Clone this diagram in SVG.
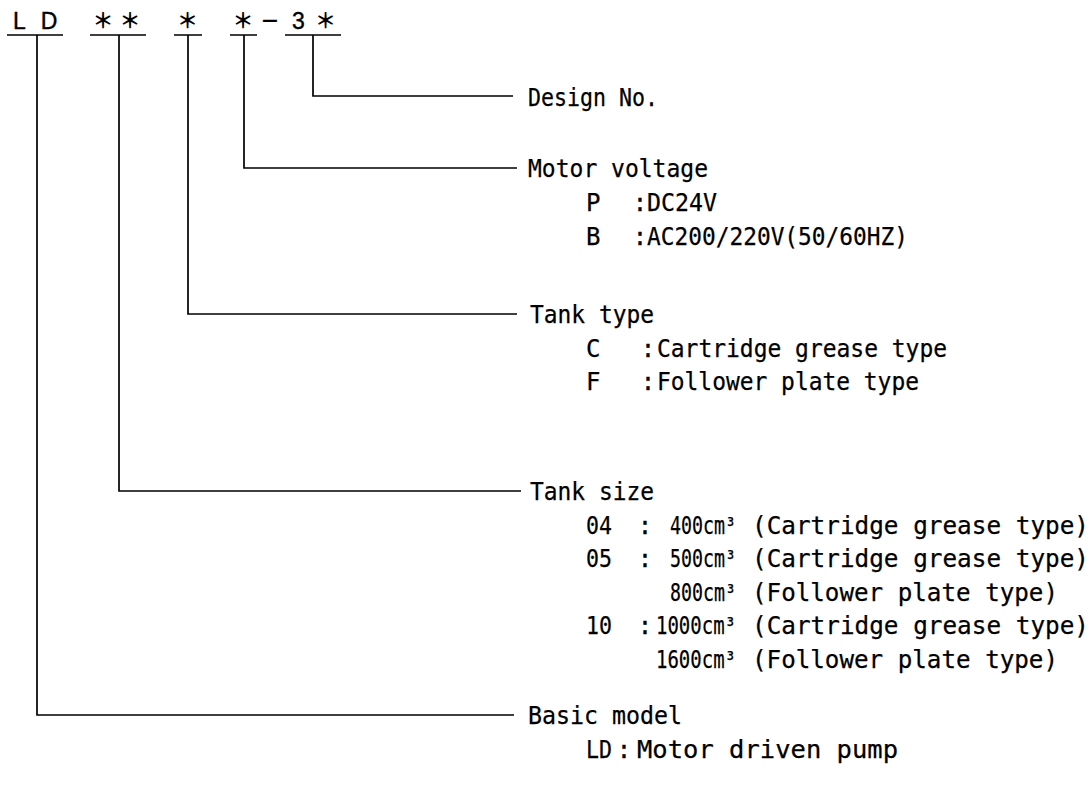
<svg xmlns="http://www.w3.org/2000/svg" width="1092" height="800" viewBox="0 0 1092 800">
<style>
.t{font-family:"DejaVu Sans Mono","Liberation Mono",monospace;font-size:24px;fill:#000;stroke:#000;stroke-width:0.25}
.c{font-family:"DejaVu Sans Mono","Liberation Mono",monospace;font-size:24px;fill:#000;text-anchor:middle;stroke:#000;stroke-width:0.3}
.h{font-family:"Liberation Sans",Arial,sans-serif;font-size:23px;fill:#000;text-anchor:middle;stroke:#000;stroke-width:0.4}
.a{font-family:"Noto Sans CJK JP","Liberation Sans",sans-serif;font-size:21px;font-weight:bold;fill:#000;text-anchor:middle}
.ln{fill:none;stroke:#000;stroke-width:1.7}
</style>
<rect width="1092" height="800" fill="#fff"/>
<g id="code">
<text class="h" x="19.5" y="29">L</text>
<text class="h" x="49" y="29">D</text>
<text class="a" x="103" y="28">＊</text>
<text class="a" x="130" y="28">＊</text>
<text class="a" x="187.5" y="28">＊</text>
<text class="a" x="243" y="28">＊</text>
<text class="h" x="270" y="30" style="font-size:28px">−</text>
<text class="h" x="298.5" y="29">3</text>
<text class="a" x="325.5" y="28">＊</text>
<path class="ln" d="M7 35H63M90 35H146M174 35H202M230 35H257M285 35H341"/>
</g>
<g id="connectors">
<path class="ln" d="M313 35V96H513"/>
<path class="ln" d="M244 35V168H517"/>
<path class="ln" d="M188 35V314H517"/>
<path class="ln" d="M119 35V491H521"/>
<path class="ln" d="M37 35V715H514"/>
</g>
<g id="design">
<text class="t" x="528" y="106" textLength="130" lengthAdjust="spacingAndGlyphs">Design No.</text>
</g>
<g id="motor">
<text class="t" x="528" y="177" textLength="180" lengthAdjust="spacingAndGlyphs">Motor voltage</text>
<text class="t" x="586" y="211">P</text>
<text class="c" x="640" y="211">:</text>
<text class="t" x="647" y="211" textLength="70" lengthAdjust="spacingAndGlyphs">DC24V</text>
<text class="t" x="586" y="245">B</text>
<text class="c" x="640" y="245">:</text>
<text class="t" x="647" y="245" textLength="261" lengthAdjust="spacingAndGlyphs">AC200/220V(50/60HZ)</text>
</g>
<g id="tanktype">
<text class="t" x="530" y="323" textLength="124" lengthAdjust="spacingAndGlyphs">Tank type</text>
<text class="t" x="586" y="357">C</text>
<text class="c" x="648" y="357">:</text>
<text class="t" x="657" y="357" textLength="290" lengthAdjust="spacingAndGlyphs">Cartridge grease type</text>
<text class="t" x="586" y="390">F</text>
<text class="c" x="648" y="390">:</text>
<text class="t" x="657" y="390" textLength="262" lengthAdjust="spacingAndGlyphs">Follower plate type</text>
</g>
<g id="tanksize">
<text class="t" x="530" y="500" textLength="124" lengthAdjust="spacingAndGlyphs">Tank size</text>
<text class="t" x="586" y="534" textLength="26" lengthAdjust="spacingAndGlyphs">04</text>
<text class="c" x="645" y="534">:</text>
<text class="t" x="670" y="534" textLength="66" lengthAdjust="spacingAndGlyphs">400cm³</text>
<text class="t" x="752" y="534" textLength="337" lengthAdjust="spacingAndGlyphs">(Cartridge grease type)</text>
<text class="t" x="586" y="567" textLength="26" lengthAdjust="spacingAndGlyphs">05</text>
<text class="c" x="645" y="567">:</text>
<text class="t" x="670" y="567" textLength="66" lengthAdjust="spacingAndGlyphs">500cm³</text>
<text class="t" x="752" y="567" textLength="337" lengthAdjust="spacingAndGlyphs">(Cartridge grease type)</text>
<text class="t" x="670" y="601" textLength="66" lengthAdjust="spacingAndGlyphs">800cm³</text>
<text class="t" x="752" y="601" textLength="306" lengthAdjust="spacingAndGlyphs">(Follower plate type)</text>
<text class="t" x="586" y="634" textLength="26" lengthAdjust="spacingAndGlyphs">10</text>
<text class="c" x="645" y="634">:</text>
<text class="t" x="656" y="634" textLength="80" lengthAdjust="spacingAndGlyphs">1000cm³</text>
<text class="t" x="752" y="634" textLength="337" lengthAdjust="spacingAndGlyphs">(Cartridge grease type)</text>
<text class="t" x="656" y="668" textLength="80" lengthAdjust="spacingAndGlyphs">1600cm³</text>
<text class="t" x="752" y="668" textLength="306" lengthAdjust="spacingAndGlyphs">(Follower plate type)</text>
</g>
<g id="basic">
<text class="t" x="528" y="724" textLength="154" lengthAdjust="spacingAndGlyphs">Basic model</text>
<text class="t" x="586" y="758" textLength="26" lengthAdjust="spacingAndGlyphs">LD</text>
<text class="c" x="624" y="758">:</text>
<text class="t" x="637" y="758" textLength="261" lengthAdjust="spacingAndGlyphs">Motor driven pump</text>
</g>
</svg>
